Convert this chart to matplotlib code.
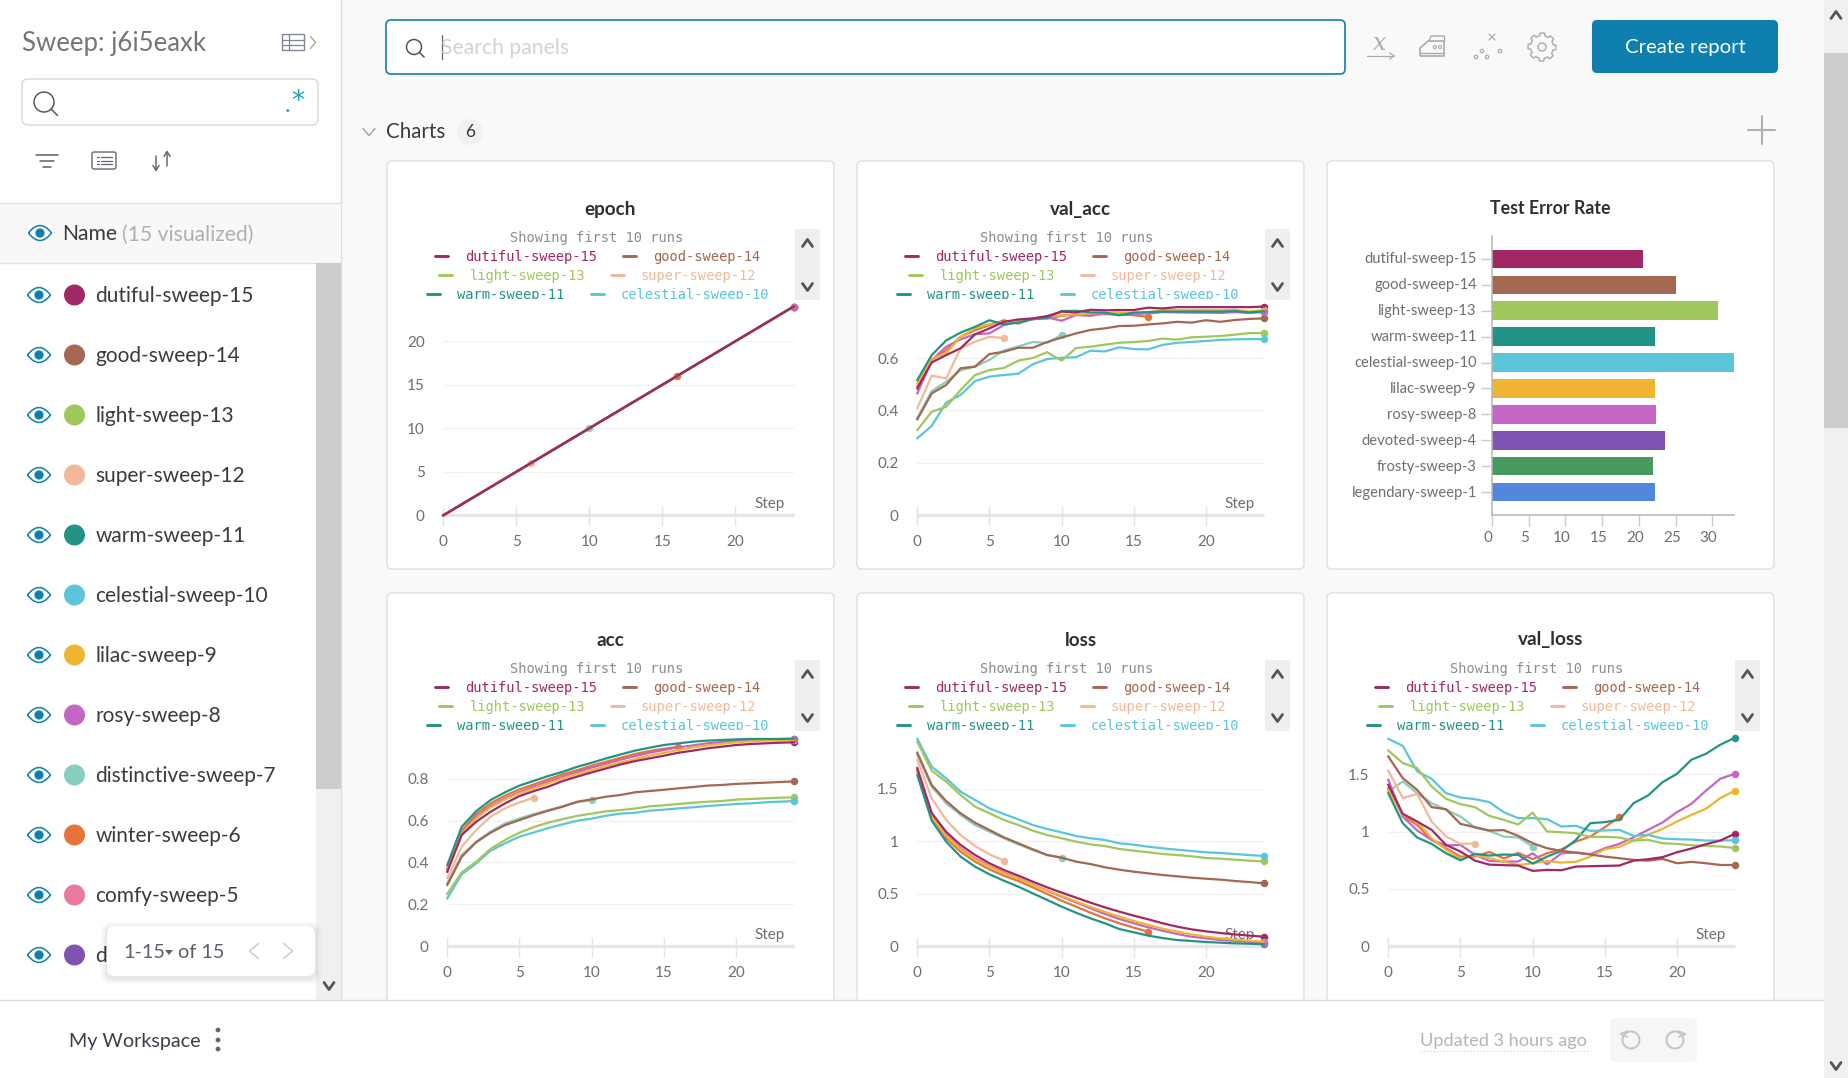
import numpy as np
import matplotlib
matplotlib.use("Agg")
import matplotlib.pyplot as plt
from matplotlib.patches import Rectangle, FancyBboxPatch, Circle, Polygon, PathPatch, Arc
from matplotlib.path import Path
from matplotlib.transforms import Bbox, ScaledTranslation

W, H = 1849, 1078
UI_FONT = "Lato"
MONO_FONT = "DejaVu Sans Mono"

run_names = ["dutiful-sweep-15", "good-sweep-14", "light-sweep-13", "super-sweep-12", "warm-sweep-11",
             "celestial-sweep-10", "lilac-sweep-9", "rosy-sweep-8", "distinctive-sweep-7", "winter-sweep-6"]
run_colors = ["#A12864", "#A46750", "#A0C75C", "#F2B999", "#229487",
              "#5BC5DB", "#EFB431", "#C565C4", "#87CEBF", "#E57439"]
# the last row is cut off by the pager popup, only its first letter shows
sidebar_names = run_names + ["comfy-sweep-5", "d"]
sidebar_colors = run_colors + ["#E87B9F", "#7D54B2"]

epoch_values = [0, 1, 2, 3, 4, 5, 6, 7, 8, 9, 10, 11, 12, 13, 14, 15, 16, 17, 18, 19, 20, 21, 22, 23, 24]
run_lengths = [25, 25, 25, 7, 25, 25, 25, 25, 11, 17]

val_acc_dutiful = [.484, .583, .611, .637, .69, .713, .738, .747, .751, .76, .777, .774, .784, .782, .783, .783, .792, .789, .794, .794, .794, .794, .794, .794, .796]
val_acc_good = [.366, .465, .497, .561, .567, .615, .624, .639, .639, .661, .678, .694, .707, .713, .722, .723, .728, .732, .738, .735, .744, .738, .745, .749, .751]
val_acc_light = [.325, .395, .414, .478, .535, .554, .562, .59, .6, .622, .59, .638, .643, .651, .658, .661, .665, .674, .67, .679, .681, .684, .689, .695, .695]
val_acc_super = [.408, .533, .522, .637, .662, .681, .676]
val_acc_warm = [.516, .611, .667, .697, .719, .744, .728, .735, .749, .754, .779, .78, .774, .773, .763, .773, .775, .777, .777, .777, .777, .777, .779, .774, .778]
val_acc_celestial = [.294, .341, .43, .459, .512, .529, .535, .54, .576, .596, .601, .603, .628, .625, .641, .634, .633, .65, .658, .661, .665, .669, .671, .672, .672]
val_acc_lilac = [.503, .596, .618, .681, .713, .73, .738, .742, .749, .758, .763, .766, .77, .772, .773, .773, .774, .783, .783, .782, .783, .782, .784, .777, .783]
val_acc_rosy = [.465, .592, .643, .671, .691, .694, .726, .738, .747, .755, .742, .764, .761, .77, .764, .768, .77, .775, .774, .773, .773, .772, .775, .772, .775]
val_acc_distinctive = [.371, .474, .509, .553, .567, .593, .629, .644, .661, .658, .688]
val_acc_winter = [.491, .592, .63, .681, .706, .725, .744, .731, .75, .75, .761, .766, .767, .767, .767, .763, .757]

acc_dutiful = [.355, .531, .594, .642, .682, .717, .741, .762, .789, .81, .83, .849, .868, .884, .897, .91, .924, .934, .945, .953, .961, .966, .969, .972, .974]
acc_good = [.292, .427, .496, .542, .578, .602, .626, .647, .666, .69, .701, .714, .722, .735, .741, .747, .754, .76, .767, .77, .775, .778, .781, .784, .787]
acc_light = [.249, .352, .403, .464, .507, .542, .569, .59, .607, .622, .633, .644, .65, .657, .668, .673, .679, .685, .69, .693, .7, .703, .706, .709, .711]
acc_super = [.324, .475, .555, .618, .658, .687, .709]
acc_warm = [.387, .57, .645, .698, .735, .767, .79, .813, .833, .857, .876, .897, .916, .934, .948, .961, .969, .977, .982, .985, .988, .99, .99, .99, .991]
acc_celestial = [.228, .343, .395, .456, .491, .523, .543, .564, .582, .599, .609, .623, .633, .637, .647, .652, .658, .663, .669, .674, .679, .682, .687, .69, .693]
acc_lilac = [.367, .539, .61, .663, .701, .73, .754, .778, .802, .822, .841, .861, .878, .894, .91, .924, .937, .95, .959, .967, .974, .979, .982, .983, .985]
acc_rosy = [.363, .543, .618, .669, .706, .736, .762, .786, .81, .832, .853, .872, .891, .908, .924, .937, .95, .959, .969, .975, .982, .985, .988, .99, .991]
acc_distinctive = [.3, .435, .499, .547, .586, .61, .631, .65, .669, .687, .698]
acc_winter = [.371, .551, .631, .682, .719, .749, .773, .797, .821, .841, .862, .881, .9, .918, .932, .943, .953]

loss_dutiful = [1.70, 1.27, 1.09, .965, .87, .79, .726, .672, .615, .56, .51, .462, .414, .369, .328, .29, .255, .217, .185, .159, .14, .124, .111, .099, .089]
loss_good = [1.847, 1.538, 1.385, 1.268, 1.178, 1.108, 1.038, .981, .924, .869, .844, .806, .783, .752, .729, .71, .694, .678, .666, .653, .643, .634, .621, .611, .599]
loss_light = [1.952, 1.675, 1.57, 1.443, 1.331, 1.268, 1.204, 1.156, 1.102, 1.06, 1.029, .997, .971, .955, .927, .911, .895, .879, .869, .857, .841, .834, .825, .815, .809]
loss_super = [1.777, 1.411, 1.204, 1.06, .955, .876, .815]
loss_warm = [1.634, 1.197, .997, .854, .758, .685, .624, .567, .503, .44, .376, .318, .264, .217, .162, .131, .099, .076, .057, .048, .038, .032, .025, .022, .016]
loss_celestial = [1.978, 1.713, 1.602, 1.475, 1.395, 1.315, 1.261, 1.21, 1.156, 1.118, 1.086, 1.051, 1.029, 1.013, .981, .968, .949, .933, .92, .908, .895, .889, .879, .869, .86]
loss_lilac = [1.68, 1.242, 1.051, .924, .828, .758, .694, .643, .586, .529, .478, .427, .373, .325, .28, .239, .201, .166, .137, .111, .089, .073, .061, .051, .041]
loss_rosy = [1.68, 1.25, 1.06, .933, .838, .764, .70, .646, .589, .529, .471, .417, .36, .306, .258, .217, .178, .146, .115, .089, .073, .057, .048, .038, .032]
loss_distinctive = [1.825, 1.522, 1.363, 1.252, 1.156, 1.092, 1.029, .971, .917, .869, .844]
loss_winter = [1.666, 1.236, 1.029, .901, .806, .732, .672, .621, .56, .497, .433, .376, .318, .264, .217, .175, .137]

val_loss_dutiful = [1.408, 1.155, 1.087, 1.015, .883, .825, .746, .711, .706, .703, .656, .665, .662, .694, .697, .70, .703, .746, .758, .776, .819, .851, .889, .921, .98]
val_loss_good = [1.656, 1.466, 1.364, 1.213, 1.195, 1.067, 1.038, 1.009, 1.012, .962, .898, .854, .831, .816, .799, .781, .767, .752, .746, .761, .723, .735, .723, .708, .708]
val_loss_light = [1.708, 1.598, 1.554, 1.394, 1.286, 1.239, 1.213, 1.137, 1.102, 1.061, 1.166, 1.0, .994, .985, .953, .953, .948, .921, .927, .898, .892, .88, .875, .869, .857]
val_loss_super = [1.531, 1.292, 1.329, 1.087, .956, .892, .895]
val_loss_warm = [1.335, 1.073, .948, .892, .81, .749, .805, .79, .799, .796, .72, .781, .831, .927, 1.073, 1.082, 1.102, 1.248, 1.315, 1.431, 1.504, 1.627, 1.679, 1.758, 1.819]
val_loss_celestial = [1.81, 1.749, 1.525, 1.461, 1.335, 1.297, 1.283, 1.257, 1.169, 1.117, 1.117, 1.108, 1.044, 1.05, 1.006, 1.009, 1.015, .962, .971, .939, .933, .93, .921, .921, .924]
val_loss_lilac = [1.364, 1.146, 1.087, .942, .84, .764, .793, .767, .738, .708, .723, .741, .729, .735, .781, .845, .866, .921, .971, 1.023, 1.087, 1.146, 1.198, 1.292, 1.356]
val_loss_rosy = [1.452, 1.131, 1.009, .927, .878, .883, .796, .743, .738, .738, .81, .714, .81, .816, .802, .854, .892, .95, 1.015, 1.079, 1.169, 1.242, 1.356, 1.461, 1.504]
val_loss_distinctive = [1.35, 1.437, 1.335, 1.248, 1.19, 1.131, 1.035, 1.006, .956, .948, .869]
val_loss_winter = [1.379, 1.137, 1.058, .927, .854, .781, .781, .822, .764, .813, .758, .81, .845, .912, .956, 1.038, 1.125]

error_names = ["dutiful-sweep-15", "good-sweep-14", "light-sweep-13", "warm-sweep-11", "celestial-sweep-10",
               "lilac-sweep-9", "rosy-sweep-8", "devoted-sweep-4", "frosty-sweep-3", "legendary-sweep-1"]
error_values = [20.6, 25.0, 30.8, 22.2, 33.0, 22.2, 22.4, 23.6, 21.9, 22.2]
error_colors = ["#A12864", "#A46750", "#A0C75C", "#229487", "#5BC5DB",
                "#EFB431", "#C565C4", "#7D54B2", "#479A5F", "#5387DD"]
error_ticks = [0, 5, 10, 15, 20, 25, 30]

step_ticks = [0, 5, 10, 15, 20]

fig = plt.figure(figsize=(W / 100, H / 100), dpi=100, facecolor="#f9f9f9")


def overlay(z):
    ax = fig.add_axes([0, 0, 1, 1], zorder=z)
    ax.set_xlim(0, W)
    ax.set_ylim(H, 0)
    ax.axis("off")
    return ax


def pixel_axes(left, right, top, bottom):
    ax = fig.add_axes([left / W, 1 - bottom / H, (right - left) / W, (bottom - top) / H], zorder=2)
    ax.patch.set_visible(False)
    return ax


bg = overlay(0)
fg = overlay(5)


def txt(ax, x, y, s, size, color="#3a3a3f", ha="left", va="center", weight="normal", family=UI_FONT, **kw):
    return ax.text(x, y, s, fontsize=size, color=color, ha=ha, va=va, fontweight=weight, family=family, **kw)


def rbox(ax, x0, y0, x1, y1, r, fc, ec="none", lw=1, z=1):
    p = FancyBboxPatch((x0 + r, y0 + r), x1 - x0 - 2 * r, y1 - y0 - 2 * r, boxstyle=f"round,pad={r},rounding_size={r}",
                       fc=fc, ec=ec, lw=lw, zorder=z)
    ax.add_patch(p)
    return p


def seg(ax, xs, ys, color, lw=1.2, z=3):
    ax.plot(xs, ys, color=color, lw=lw, zorder=z, solid_capstyle="round", solid_joinstyle="round")


def chevron(ax, x, y, w, h, color, lw=2, direction="up"):
    if direction == "up":
        seg(ax, [x - w, x, x + w], [y + h, y - h, y + h], color, lw)
    elif direction == "down":
        seg(ax, [x - w, x, x + w], [y - h, y + h, y - h], color, lw)
    elif direction == "left":
        seg(ax, [x + w, x - w, x + w], [y - h, y, y + h], color, lw)
    else:
        seg(ax, [x - w, x + w, x - w], [y - h, y, y + h], color, lw)


def eye(ax, x, y):
    w, h = 11.5, 15
    path = Path([(x - w, y), (x, y - h), (x + w, y), (x, y + h), (x - w, y)],
                [Path.MOVETO, Path.CURVE3, Path.CURVE3, Path.CURVE3, Path.CURVE3])
    ax.add_patch(PathPatch(path, fc="white", ec="#0f7fb0", lw=1.1, zorder=3))
    ax.add_patch(Circle((x, y), 4.6, fc="#0f7fb0", ec="none", zorder=4))


def magnifier(ax, x, y, r, color="#5a5a5a"):
    ax.add_patch(Circle((x, y), r, fc="none", ec=color, lw=1.1, zorder=3))
    seg(ax, [x + r * 0.7, x + r * 1.35], [y + r * 0.7, y + r * 1.35], color, 1.1)


# page chrome
bg.add_patch(Rectangle((0, 0), 341, 1000, fc="white", ec="none", zorder=0))
seg(bg, [341, 341], [0, 1000], "#dcdcdc", 1.0, 1)
txt(bg, 22, 44, "Sweep: j6i5eaxk", 18.5, "#757575")
bg.add_patch(Rectangle((282, 34), 22, 16, fc="none", ec="#7d8797", lw=1, zorder=3))
seg(bg, [282, 304], [39.5, 39.5], "#7d8797", 0.9)
seg(bg, [282, 304], [45, 45], "#7d8797", 0.9)
seg(bg, [289, 289], [34, 50], "#7d8797", 0.9)
chevron(bg, 313, 42.5, 2.5, 6, "#a8a8a8", 1, "right")
rbox(bg, 22, 79, 318, 125, 6, "white", "#d8d8d8", 1)
magnifier(bg, 44, 102, 10)
txt(bg, 288, 105, ".", 17, "#1fa3b5", ha="center")
txt(bg, 298, 102, "*", 19, "#1fa3b5", ha="center", family="DejaVu Sans")
seg(bg, [36, 58], [155, 155], "#606060", 1.1)
seg(bg, [40, 54], [161, 161], "#606060", 1.1)
seg(bg, [43, 51], [167, 167], "#606060", 1.1)
rbox(bg, 92, 152, 116, 169, 2, "none", "#606878", 1, 3)
for ly in (157, 160.5, 164):
    seg(bg, [97, 99], [ly, ly], "#606878", 0.9)
    seg(bg, [101, 112], [ly, ly], "#606878", 0.9)
seg(bg, [156, 156], [156, 170], "#6a6a6a", 1.1)
chevron(bg, 156, 168, 3, 2.5, "#6a6a6a", 1.1, "down")
seg(bg, [167, 167], [152, 166], "#6a6a6a", 1.1)
chevron(bg, 167, 154, 3, 2.5, "#6a6a6a", 1.1, "up")

bg.add_patch(Rectangle((0, 203), 341, 60, fc="#f8f8f8", ec="none", zorder=1))
seg(bg, [0, 341], [203, 203], "#e0e0e0", 1, 2)
seg(bg, [0, 341], [263, 263], "#e0e0e0", 1, 2)
eye(bg, 40, 233)
txt(bg, 62, 234.5, "Name", 15.2, "#3a3a3f", zorder=3)
txt(bg, 122, 234.5, "(15 visualized)", 15.2, "#b0b0b0", zorder=3)

bg.add_patch(Rectangle((316, 263), 25, 737, fc="#f0f0f0", ec="none", zorder=1))
bg.add_patch(Rectangle((316, 263), 25, 526, fc="#cccccc", ec="none", zorder=2))
chevron(bg, 329, 986, 5, 3.5, "#555555", 2, "down")

for i, (n, c) in enumerate(zip(sidebar_names, sidebar_colors)):
    y = 295 + 60 * i
    eye(bg, 39, y)
    bg.add_patch(Circle((74.5, y), 10.5, fc=c, ec="none", zorder=3))
    txt(bg, 95.5, y + 1, n, 15, "#3a3a3f", zorder=3)

# popup for the pager
for grow, al in ((6, 0.02), (4, 0.03), (2, 0.04)):
    rbox(fg, 107 - grow, 926 - grow + 2, 315 + grow, 976 + grow + 2, 8, "black", z=1).set_alpha(al)
rbox(fg, 107, 926, 315, 976, 8, "white", z=2)
txt(fg, 123, 952, "1-15", 14.3, "#5a5f68", zorder=3)
fg.add_patch(Polygon([[165, 950], [173, 950], [169, 955]], fc="#5a5f68", ec="none", zorder=3))
txt(fg, 178, 952, "of 15", 14.3, "#5a5f68", zorder=3)
chevron(fg, 254, 951, 4.5, 7.5, "#d0d0d0", 1.2, "left")
chevron(fg, 288, 951, 4.5, 7.5, "#d0d0d0", 1.2, "right")

# top bar
rbox(bg, 386, 20, 1345, 74, 5, "white", "#0f7fb0", 1.2)
magnifier(bg, 414, 47, 7.5, "#555555")
seg(bg, [441.5, 441.5], [35, 59], "#666666", 0.9)
txt(bg, 441, 48, "Search panels", 15.2, "#d2d2d2", zorder=3)

icon_c = "#ababab"
txt(bg, 1380, 43, "x", 17, icon_c, ha="center", family="DejaVu Serif", style="italic", zorder=3)
seg(bg, [1367, 1393], [56, 56], icon_c, 0.9)
chevron(bg, 1392, 56, 2.5, 3, icon_c, 0.9, "right")
iron = Path([(1420, 56), (1420, 48), (1428, 41), (1444, 41), (1444, 56), (1420, 56)])
bg.add_patch(PathPatch(iron, fc="none", ec=icon_c, lw=1.2, zorder=3))
seg(bg, [1429, 1431, 1444], [41, 36, 36], icon_c, 1.0)
seg(bg, [1444, 1444], [36, 41], icon_c, 1.0)
seg(bg, [1420, 1444], [53, 53], icon_c, 1.0)
for ix in (1435, 1440):
    bg.add_patch(Circle((ix, 47), 1.5, fc="none", ec=icon_c, lw=0.8, zorder=3))
for sx, sy in ((1476, 57), (1487, 57), (1482, 51), (1500, 51)):
    bg.add_patch(Circle((sx, sy), 1.7, fc="none", ec=icon_c, lw=0.9, zorder=3))
seg(bg, [1489, 1495], [34, 40], icon_c, 0.9)
seg(bg, [1495, 1489], [34, 40], icon_c, 0.9)
ang = np.linspace(0, 2 * np.pi, 97)
gear_r = 14 - 2.6 * (np.cos(8 * ang) < 0)
bg.add_patch(Polygon(np.c_[1542 + gear_r * np.cos(ang), 47 + gear_r * np.sin(ang)], closed=True, fc="none",
                     ec=icon_c, lw=1, zorder=3, joinstyle="round"))
bg.add_patch(Circle((1542, 47), 4, fc="none", ec=icon_c, lw=1, zorder=3))
rbox(bg, 1592, 20, 1778, 73, 5, "#0f7fb0")
txt(bg, 1685, 47.5, "Create report", 14.7, "white", ha="center", zorder=3)

chevron(bg, 369, 132, 6, 3.5, "#a0a0a0", 1, "down")
txt(bg, 386, 132, "Charts", 14.8, "#3a3a3f")
bg.add_patch(Circle((470, 132), 13, fc="#f1f1f1", ec="none", zorder=1))
txt(bg, 470, 132, "6", 12.5, "#3a3a3f", ha="center", zorder=3)
seg(bg, [1748, 1775], [130, 130], "#b0b0b0", 1.5)
seg(bg, [1761.5, 1761.5], [116, 144], "#b0b0b0", 1.5)

# right page scrollbar
fg.add_patch(Rectangle((1824, 0), 25, H, fc="#f0f0f0", ec="none", zorder=1))
fg.add_patch(Rectangle((1824, 53), 25, 375, fc="#cccccc", ec="none", zorder=2))
chevron(fg, 1836, 15, 5, 3.5, "#555555", 2, "up")
chevron(fg, 1836, 1066, 5, 3.5, "#555555", 2, "down")

# bottom bar, drawn above the charts since it cuts them off
fg.add_patch(Rectangle((0, 1000), 1824, 78, fc="white", ec="none", zorder=1))
seg(fg, [0, 1824], [1000, 1000], "#dcdcdc", 1, 2)
txt(fg, 69, 1041, "My Workspace", 14.2, "#3a3f4a", zorder=3)
for dy in (1030, 1040, 1049):
    fg.add_patch(Circle((218, dy), 2.4, fc="#666666", ec="none", zorder=3))
txt(fg, 1420, 1041, "Updated 3 hours ago", 13.1, "#b4b4b4", zorder=3)
fg.plot([1420, 1588], [1051, 1051], color="#cfcfcf", lw=0.8, ls=(0, (1, 2)), zorder=3)
rbox(fg, 1610, 1018, 1697, 1062, 5, "#f6f6f6", z=2)
fg.add_patch(Arc((1631, 1040), 17, 17, theta1=-120, theta2=240, ec="#c4c4c4", lw=1.4, zorder=3))
fg.add_patch(Arc((1675, 1040), 17, 17, theta1=-60, theta2=300, ec="#c4c4c4", lw=1.4, zorder=3))
chevron(fg, 1624, 1034, 3.5, 3, "#c4c4c4", 1.2, "left")
chevron(fg, 1682, 1034, 3.5, 3, "#c4c4c4", 1.2, "right")


def draw_panel(left, top, bottom, title, title_y, size=13.6):
    right = left + 447
    rbox(bg, left, top, right, bottom, 5, "white", "#dedede", 1, 1)
    txt(bg, left + (right - left) / 2, title_y, title, size, "#2f2f33", ha="center", weight="bold", zorder=3)


def draw_legend(left, top):
    # offsets measured from the panel corner
    txt(fg, left + 210, top + 77, "Showing first 10 runs", 9.9, "#8d8d8d", ha="center", family=MONO_FONT, zorder=3)
    rows = [(96, 48, 78, 236, 266, 0, 1), (115, 52, 83, 224, 254, 2, 3), (134, 40, 70, 204, 234, 4, 5)]
    clip = Bbox([[left, H - (top + 138)], [left + 447, H - top]])
    for dy, d0, t0, d1, t1, a, b in rows:
        for dx, tx, k in ((d0, t0, a), (d1, t1, b)):
            seg(fg, [left + dx, left + dx + 13], [top + dy - 1, top + dy - 1], run_colors[k], 2.1)
            t = txt(fg, left + tx, top + dy, run_names[k], 9.9, run_colors[k], family=MONO_FONT, zorder=3)
            t.set_clip_box(clip)
            t.set_clip_on(True)
    fg.add_patch(Rectangle((left + 408, top + 68), 25, 71, fc="#efefef", ec="none", zorder=2))
    chevron(fg, left + 420.5, top + 82, 5, 3.5, "#555555", 2, "up")
    chevron(fg, left + 420.5, top + 126, 5, 3.5, "#555555", 2, "down")


def draw_lines(left, right, y0, ytop, yticks, ylabels, runs):
    ax = pixel_axes(left, right, ytop, y0)
    ax.set_xlim(0, 24)
    ax.set_ylim(0, yticks[-1])
    for s in ax.spines.values():
        s.set_visible(False)
    ax.grid(axis="y", color="#f0f0f0", lw=1)
    ax.set_axisbelow(True)
    ax.set_yticks(yticks, ylabels)
    ax.set_xticks(step_ticks)
    ax.tick_params(axis="y", length=0, pad=13.5, labelsize=11, labelcolor="#6e6e73")
    ax.tick_params(axis="x", length=8, width=1, color="#e4e4e4", pad=6.5, labelsize=11, labelcolor="#6e6e73")
    for lab in ax.get_xticklabels() + ax.get_yticklabels():
        lab.set_family(UI_FONT)
    ax.plot([0, 24], [0, 0], color="#e6e6e6", lw=2.4, zorder=1, clip_on=False, solid_capstyle="butt")
    px = (y0 - ytop) / yticks[-1]
    for t in step_ticks:
        ax.plot([t, t], [0, 8 / px], color="#e4e4e4", lw=1, zorder=1, clip_on=False)
    ax.annotate("Step", xy=(1, 0), xycoords="axes fraction", xytext=(-6.3, 3), textcoords="offset points",
                ha="right", va="bottom", fontsize=11, color="#6e6e73", family=UI_FONT, zorder=2)
    # end dots sit under the lines, in run order; lines go newest run last
    for vals, c in zip(runs, run_colors):
        ax.plot(len(vals) - 1, vals[-1], "o", color=c, ms=5.4, mec="none", zorder=3, clip_on=False)
    for vals, c in list(zip(runs, run_colors))[::-1]:
        ax.plot(range(len(vals)), vals, color=c, lw=1.6, zorder=4, clip_on=False, solid_joinstyle="round")
    return ax


panel_x = [387, 857, 1327]
draw_panel(panel_x[0], 161, 569, "epoch", 209.5)
draw_panel(panel_x[1], 161, 569, "val_acc", 209.5)
draw_panel(panel_x[2], 161, 569, "Test Error Rate", 209, 12.8)
draw_panel(panel_x[0], 593, 1010, "acc", 640)
draw_panel(panel_x[1], 593, 1010, "loss", 640)
draw_panel(panel_x[2], 593, 1010, "val_loss", 640)

for lx, ty in ((panel_x[0], 161), (panel_x[1], 161), (panel_x[0], 592), (panel_x[1], 592), (panel_x[2], 592)):
    draw_legend(lx, ty)

draw_lines(443.3, 793.7, 515.3, 341.3, [0, 5, 10, 15, 20], ["0", "5", "10", "15", "20"],
           [epoch_values[:n] for n in run_lengths])
draw_lines(917.3, 1263.7, 515.3, 358, [0, .2, .4, .6], ["0", "0.2", "0.4", "0.6"],
           [val_acc_dutiful, val_acc_good, val_acc_light, val_acc_super, val_acc_warm,
            val_acc_celestial, val_acc_lilac, val_acc_rosy, val_acc_distinctive, val_acc_winter])
draw_lines(447.3, 793.7, 946, 778.7, [0, .2, .4, .6, .8], ["0", "0.2", "0.4", "0.6", "0.8"],
           [acc_dutiful, acc_good, acc_light, acc_super, acc_warm,
            acc_celestial, acc_lilac, acc_rosy, acc_distinctive, acc_winter])
draw_lines(917.3, 1263.7, 946, 789, [0, .5, 1, 1.5], ["0", "0.5", "1", "1.5"],
           [loss_dutiful, loss_good, loss_light, loss_super, loss_warm,
            loss_celestial, loss_lilac, loss_rosy, loss_distinctive, loss_winter])
draw_lines(1388.3, 1734.7, 946, 774.3, [0, .5, 1, 1.5], ["0", "0.5", "1", "1.5"],
           [val_loss_dutiful, val_loss_good, val_loss_light, val_loss_super, val_loss_warm,
            val_loss_celestial, val_loss_lilac, val_loss_rosy, val_loss_distinctive, val_loss_winter])

# Test Error Rate bars
ax = pixel_axes(1492, 1734.3, 236, 514.7)
ax.set_xlim(0, 33)
ax.set_ylim(9.875, -0.888)
ypos = np.arange(len(error_names))
ax.barh(ypos, error_values, height=0.72, color=error_colors, edgecolor="none")
ax.set_yticks(ypos, error_names)
ax.set_xticks(error_ticks)
for s in ("top", "right"):
    ax.spines[s].set_visible(False)
for s in ("left", "bottom"):
    ax.spines[s].set_color("#b5b5b5")
    ax.spines[s].set_linewidth(1.1)
ax.tick_params(axis="y", length=8, width=1, color="#cccccc", pad=3, labelsize=10.6, labelcolor="#6e6e73")
ax.tick_params(axis="x", length=8, width=1, color="#cccccc", pad=3.5, labelsize=11, labelcolor="#6e6e73")
shift_x = ScaledTranslation(-3.7 / 100, 0, fig.dpi_scale_trans)
shift_y = ScaledTranslation(0, 1 / 100, fig.dpi_scale_trans)
for lab in ax.get_xticklabels():
    lab.set_family(UI_FONT)
    lab.set_transform(lab.get_transform() + shift_x)
for lab in ax.get_yticklabels():
    lab.set_family(UI_FONT)
    lab.set_transform(lab.get_transform() + shift_y)

fig.savefig("out.png", dpi=100, facecolor=fig.get_facecolor())
